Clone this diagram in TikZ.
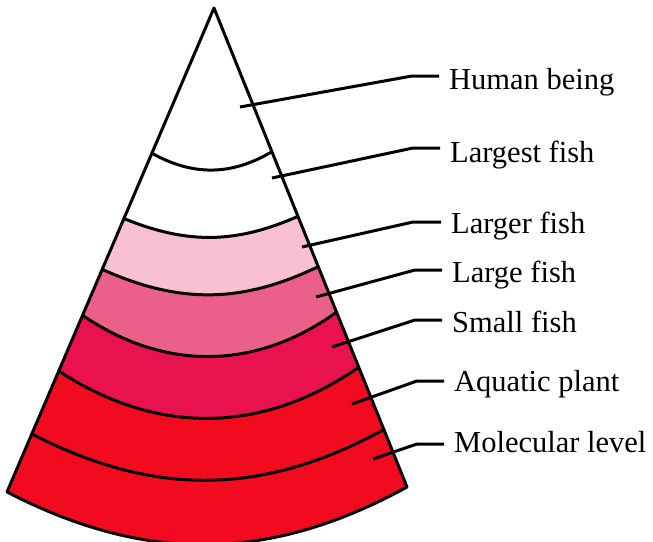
\documentclass[tikz,border=0pt]{standalone}
\usepackage{fontspec}
\setmainfont{Liberation Serif}
\usepackage{tikz}
\usetikzlibrary{calc}

\definecolor{paleband}{HTML}{F8C0D0}
\definecolor{pinkband}{HTML}{EA6088}
\definecolor{deepband}{HTML}{E9124E}
\definecolor{redband}{HTML}{F20A1E}

\begin{document}
\begin{tikzpicture}[
  x=1pt, y=-1pt,
  font=\fontsize{30.5}{36}\selectfont,
  rim/.style={line width=3pt, line join=round},
  leader/.style={line width=3pt},
  lbl/.style={anchor=base west, inner xsep=10pt, inner ysep=0pt}
]
\useasboundingbox (0,0) rectangle (653,541);

\coordinate (apex) at (214,8);
\coordinate (bl) at (7,492);
\coordinate (br) at (407,487);

% level lines on both sides of the cone
\foreach \t [count=\i] in {0.30,0.435,0.54,0.635,0.75,0.88}{
  \coordinate (L\i) at ($(apex)!\t!(bl)$);
  \coordinate (R\i) at ($(apex)!\t!(br)$);
}

% coloured bands
\fill[paleband] (L2) -- (L3) to[bend right=25] (R3) -- (R2) to[bend left=23] (L2) -- cycle;
\fill[pinkband] (L3) -- (L4) to[bend right=35] (R4) -- (R3) to[bend left=25] (L3) -- cycle;
\fill[deepband] (L4) -- (L5) to[bend right=34] (R5) -- (R4) to[bend left=35] (L4) -- cycle;
\fill[redband] (L5) -- (bl) to[bend right=28] (br) -- (R5) to[bend left=34] (L5) -- cycle;

\draw[rim] (apex) -- (bl) to[bend right=28] (br) -- cycle;
\foreach \i/\b in {1/30,2/23,3/25,4/35,5/34,6/28}
  \draw[rim] (L\i) to[bend right=\b] (R\i);

% labels
\node[lbl] (human) at (439,89) {Human being};
\node[lbl] (largest) at (440,162) {Largest fish};
\node[lbl] (larger) at (441,233) {Larger fish};
\node[lbl] (large) at (442,282) {Large fish};
\node[lbl] (small) at (442,332) {Small fish};
\node[lbl] (aquatic) at (444,391) {Aquatic plant};
\node[lbl] (molecular) at (444,452) {Molecular level};

% leader lines
\coordinate (s1) at (240,107); \coordinate (k1) at (412,76);
\coordinate (s2) at (272,178); \coordinate (k2) at (413,148);
\coordinate (s3) at (302,247); \coordinate (k3) at (413,222);
\coordinate (s4) at (316,297); \coordinate (k4) at (415,270);
\coordinate (s5) at (332,347); \coordinate (k5) at (415,320);
\coordinate (s6) at (352,404); \coordinate (k6) at (417,381);
\coordinate (s7) at (373,459); \coordinate (k7) at (417,444);

\draw[leader] (s1) -- (k1) -- (k1 -| human.west);
\draw[leader] (s2) -- (k2) -- (k2 -| largest.west);
\draw[leader] (s3) -- (k3) -- (k3 -| larger.west);
\draw[leader] (s4) -- (k4) -- (k4 -| large.west);
\draw[leader] (s5) -- (k5) -- (k5 -| small.west);
\draw[leader] (s6) -- (k6) -- (k6 -| aquatic.west);
\draw[leader] (s7) -- (k7) -- (k7 -| molecular.west);
\end{tikzpicture}
\end{document}
